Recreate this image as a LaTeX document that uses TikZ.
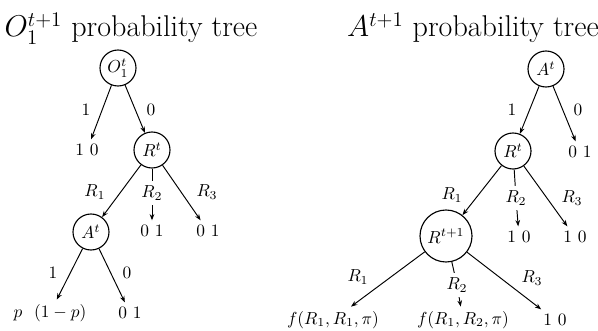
\documentclass[tikz,border=0pt]{standalone}
\usetikzlibrary{arrows.meta}
\begin{document}
\begin{tikzpicture}[x=0.575pt,y=-0.575pt,
  tnode/.style={circle,draw,line width=0.65pt,minimum size=20.7pt,inner sep=1pt},
  bignode/.style={circle,draw,line width=0.65pt,minimum size=29.9pt,inner sep=1pt},
  leaf/.style={inner sep=2.5pt},
  elabel/.style={inner sep=2pt},
  midlab/.style={inner sep=2.6pt},
  arr/.style={line width=0.55pt,-{Stealth[length=3.6pt,width=2.7pt]}},
  seg/.style={line width=0.55pt},
  title/.style={font=\LARGE,anchor=base}]
\useasboundingbox (0,0) rectangle (598,331);
% titles
\node[title] (t1) at (131,37) {$O_1^{t+1}$ probability tree};
\node[title] (t2) at (473,37) {$A^{t+1}$ probability tree};
% ---------------- left tree
\node[tnode] (O) at (118,68) {$O_1^t$};
\node[leaf] (L10) at (87,150) {1 0};
\node[tnode] (Rl) at (152,150) {$R^t$};
\node[tnode] (Al) at (91,232) {$A^t$};
\node[midlab] (lR2) at (152,193) {$R_2$};
\node[leaf] (L01a) at (152,231) {0 1};
\node[leaf] (L01b) at (208,231) {0 1};
\node[leaf] (Lp) at (50,313) {$p$\ \ $(1-p)$};
\node[leaf] (L01c) at (130,313) {0 1};
\draw[arr] (O) -- (L10);
\draw[arr] (O) -- (Rl);
\draw[arr] (Rl) -- (Al);
\draw[seg] (Rl) -- (lR2);
\draw[arr] (lR2) -- (L01a);
\draw[arr] (Rl) -- (L01b);
\draw[arr] (Al) -- (Lp);
\draw[arr] (Al) -- (L01c);
\node[elabel] (a1) at (86,110) {$1$};
\node[elabel] (a0) at (151,110) {$0$};
\node[elabel] (aR1) at (95,192) {$R_1$};
\node[elabel] (aR3) at (207,192) {$R_3$};
\node[elabel] (b1) at (53,273) {$1$};
\node[elabel] (b0) at (127,273) {$0$};
% ---------------- right tree
\node[tnode] (Ar) at (546,69) {$A^t$};
\node[tnode] (Rr) at (513,151) {$R^t$};
\node[leaf] (R01) at (580,152) {0 1};
\node[bignode] (Rn) at (446,236) {$R^{t+1}$};
\node[midlab] (rR2) at (516,198) {$R_2$};
\node[leaf] (R10a) at (519,237) {1 0};
\node[leaf] (R10b) at (575,237) {1 0};
\node[midlab] (sR2) at (457,285) {$R_2$};
\node[leaf] (F1) at (333,320) {$f(R_1,R_1,\pi)$};
\node[leaf] (F2) at (463,320) {$f(R_1,R_2,\pi)$};
\node[leaf] (R10c) at (555,320) {1 0};
\draw[arr] (Ar) -- (Rr);
\draw[arr] (Ar) -- (R01);
\draw[arr] (Rr) -- (Rn);
\draw[seg] (Rr) -- (rR2);
\draw[arr] (rR2) -- (R10a);
\draw[arr] (Rr) -- (R10b);
\draw[arr] (Rn) -- (F1);
\draw[seg] (Rn) -- (sR2);
\draw[arr] (sR2) -- (F2);
\draw[arr] (Rn) -- (R10c);
\node[elabel] (c1) at (512,110) {$1$};
\node[elabel] (c0) at (578,110) {$0$};
\node[elabel] (cR1) at (452,195) {$R_1$};
\node[elabel] (cR3) at (572,198) {$R_3$};
\node[elabel] (dR1) at (358,277) {$R_1$};
\node[elabel] (dR3) at (532,278) {$R_3$};
\end{tikzpicture}
\end{document}
